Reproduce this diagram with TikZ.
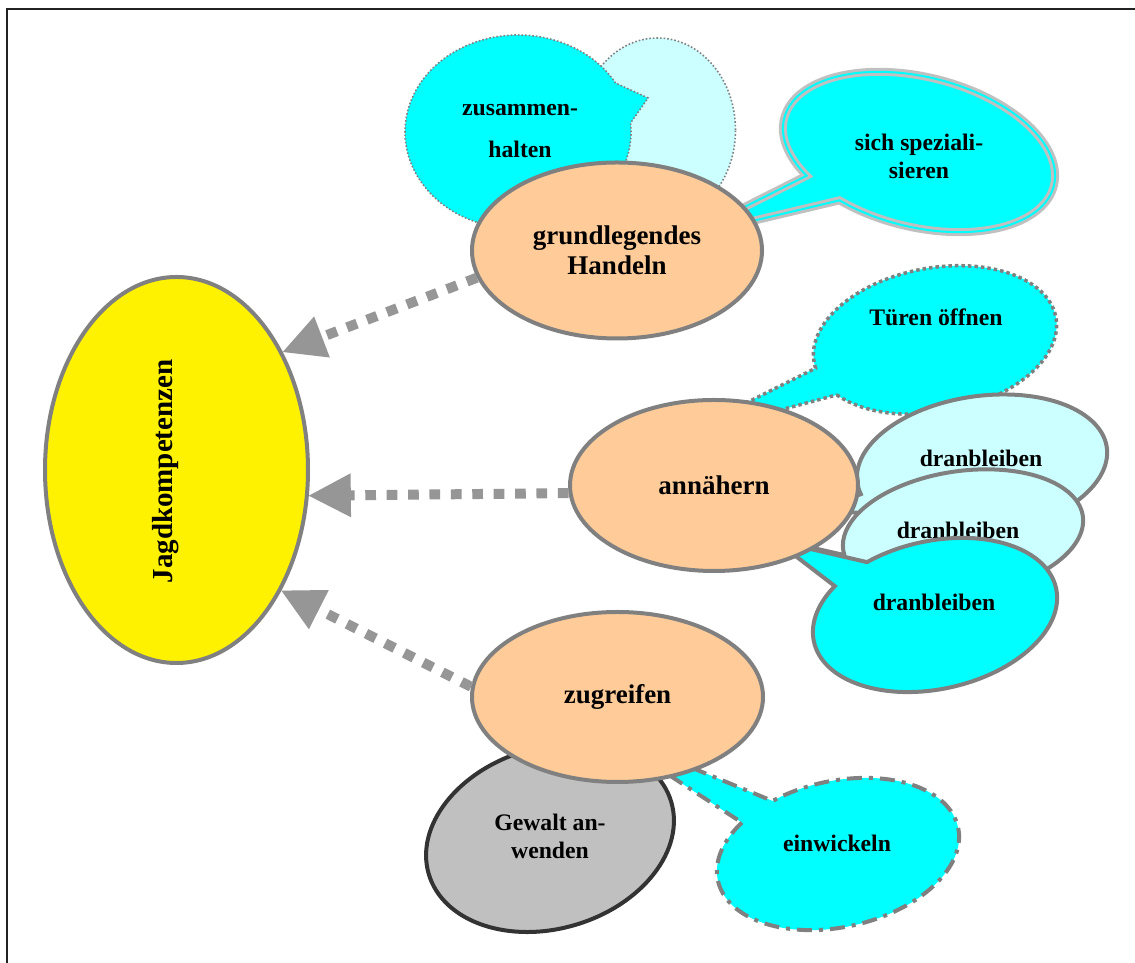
\documentclass[tikz,border=0pt]{standalone}
\usepackage{fontspec}
\setmainfont{Liberation Serif}
\usetikzlibrary{shapes.geometric,arrows.meta}
\definecolor{peach}{HTML}{FFCC99}
\definecolor{aqua}{HTML}{00FFFF}
\definecolor{paleaqua}{HTML}{CCFFFF}
\definecolor{rimgray}{HTML}{808080}
\definecolor{arrowgray}{HTML}{969696}
\definecolor{silvergray}{HTML}{C0C0C0}
\definecolor{darkrim}{HTML}{333333}
\definecolor{framecol}{HTML}{222222}

\begin{document}
\begin{tikzpicture}[x=1pt,y=1pt,
  mainnode/.style={ellipse, draw=rimgray, line width=4pt, inner sep=0pt, align=center,
    font=\fontsize{27}{30}\selectfont\bfseries},
  bubbletext/.style={inner sep=0pt, align=center, font=\fontsize{23.7}{28}\selectfont\bfseries},
  link/.style={draw=arrowgray, line width=10pt, dash pattern=on 10.7pt off 10.7pt,
    -{Triangle[length=42pt,width=44pt,line width=0pt]}},
  dotrim/.style={draw=rimgray, line width=1.6pt, dash pattern=on 1.6pt off 2pt},
  zusback/.style={dotrim, fill=paleaqua},
  zusrim/.style={dotrim, fill=aqua},
  spzrim/.style={fill=aqua, draw=silvergray, double=aqua, line width=3pt, double distance=2pt},
  turrim/.style={fill=aqua, draw=rimgray, line width=3.5pt, dash pattern=on 3.5pt off 3pt},
  dranpale/.style={fill=paleaqua, draw=rimgray, line width=4pt},
  dranfull/.style={fill=aqua, draw=rimgray, line width=4pt},
  gewrim/.style={fill=silvergray, draw=darkrim, line width=4pt},
  ewrim/.style={fill=aqua, draw=rimgray, line width=4pt, dash pattern=on 15pt off 7pt on 4pt off 7pt},
]
\useasboundingbox (0,0) rectangle (1135,963);
\fill[white] (0,0) rectangle (1135,963);

% frame (top and left edges)
\draw[framecol, line width=2pt] (7,0) -- (7,954) -- (1135,954);

% central goal
\node[mainnode, fill=yellow, minimum width=263pt, minimum height=386pt] (J) at (176.5,493) {};
\node[rotate=90, inner sep=0pt, font=\fontsize{29}{30}\selectfont\bfseries] (Jtext) at (166,491.5) {Jagdkompetenzen};

% pointer tips of the callouts (hidden under the main ellipses)
\coordinate (zustip) at (648,865);
\coordinate (spztip) at (685,726);
\coordinate (turtip) at (676,525);
\coordinate (d1tip) at (820,453);
\coordinate (d2tip) at (800,418);
\coordinate (d3tip) at (776,422);
\coordinate (ewtip) at (600,233);

% callouts around "grundlegendes Handeln"
\filldraw[zusback] (657.5,833) ellipse[x radius=78, y radius=92];
\begin{scope}[shift={(518,831)}]
  \filldraw[zusrim] (30.3:113 and 97) arc[start angle=30.3, end angle=365.3, x radius=113, y radius=97] -- (zustip) -- cycle;
\end{scope}
\node[bubbletext, font=\fontsize{23.7}{42}\selectfont\bfseries] (zus) at (520,832) {zusammen-\\halten};

\begin{scope}[shift={(919,811)}, rotate=-14]
  \filldraw[spzrim] (241.9:139 and 75) arc[start angle=241.9, end angle=582, x radius=139, y radius=75] -- (spztip) -- cycle;
\end{scope}
\node[bubbletext] (spz) at (919,807) {sich speziali-\\sieren};

\node[mainnode, fill=peach, minimum width=290pt, minimum height=176pt] (G) at (617,712.5) {grundlegendes\\Handeln};

% callouts around "annähern"
\begin{scope}[shift={(935,623)}, rotate=10.6]
  \filldraw[turrim] (209.9:123 and 72) arc[start angle=209.9, end angle=544.6, x radius=123, y radius=72] -- (turtip) -- cycle;
\end{scope}
\node[bubbletext] (tur) at (936,646) {Türen öffnen};

\begin{scope}[shift={(982,498)}, rotate=8]
  \filldraw[dranpale] (210:126 and 69) arc[start angle=210, end angle=550, x radius=126, y radius=69] -- (d1tip) -- cycle;
\end{scope}
\node[bubbletext] (d1) at (981,505) {dranbleiben};

\begin{scope}[shift={(963,430)}, rotate=8]
  \filldraw[dranpale] (205:121 and 62) arc[start angle=205, end angle=545, x radius=121, y radius=62] -- (d2tip) -- cycle;
\end{scope}
\node[bubbletext] (d2) at (958,433) {dranbleiben};

\begin{scope}[shift={(935,348)}, rotate=12.5]
  \filldraw[dranfull] (137.6:124 and 74) arc[start angle=137.6, end angle=476.3, x radius=124, y radius=74] -- (d3tip) -- cycle;
\end{scope}
\node[bubbletext] (d3) at (934,361) {dranbleiben};

\node[mainnode, fill=peach, minimum width=288pt, minimum height=171pt] (A) at (714,477.5) {annähern};

% callouts around "zugreifen"
\begin{scope}[shift={(550,125)}, rotate=16.7]
  \filldraw[gewrim] (0,0) ellipse[x radius=126.5, y radius=90.5];
\end{scope}
\node[bubbletext] (gew) at (550,127) {Gewalt an-\\wenden};

\begin{scope}[shift={(838,109)}, rotate=12.6]
  \filldraw[ewrim] (135:123 and 73) arc[start angle=135, end angle=475.2, x radius=123, y radius=73] -- (ewtip) -- cycle;
\end{scope}
\node[bubbletext] (ew) at (837,120) {einwickeln};

\node[mainnode, fill=peach, minimum width=291pt, minimum height=170pt] (Z) at (617.5,266) {zugreifen};

% contributions to the hunting skills
\draw[link] (G.191) -- (J.48.5);
\draw[link] (A.183.4) -- (J.349.5);
\draw[link] (Z.176.4) -- (J.311.1);
\end{tikzpicture}
\end{document}
